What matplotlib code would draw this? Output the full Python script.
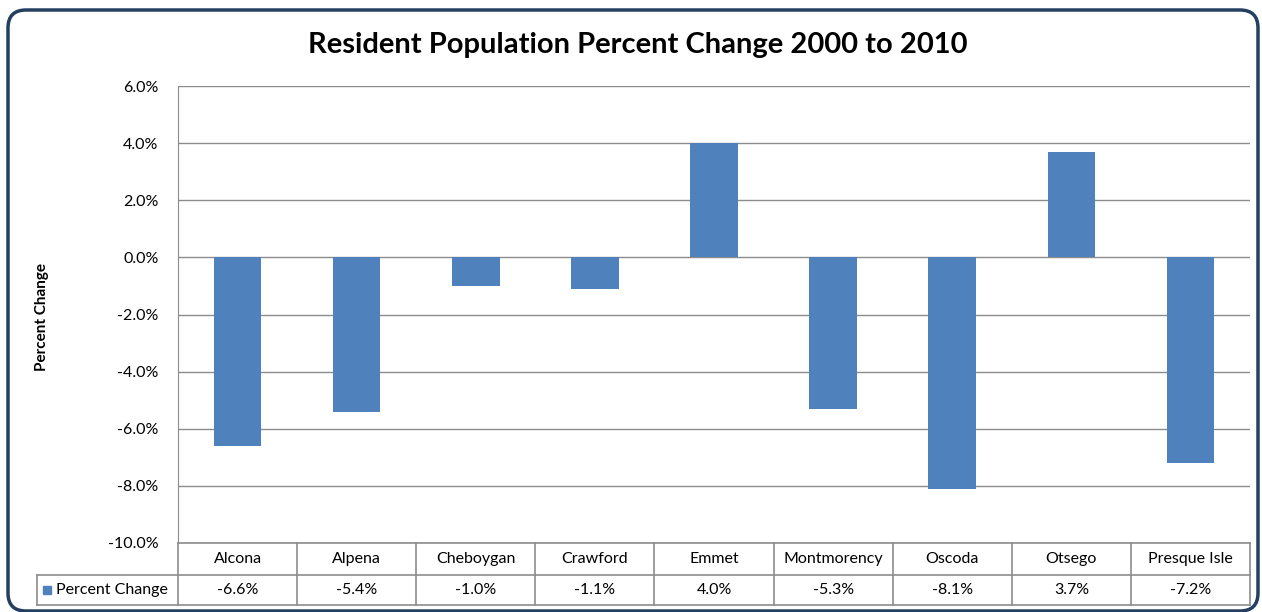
import matplotlib
matplotlib.use("Agg")
import matplotlib.pyplot as plt
from matplotlib.patches import FancyBboxPatch, Rectangle
from matplotlib.transforms import blended_transform_factory, IdentityTransform
import numpy as np

plt.rcParams['font.family'] = ['Lato', 'DejaVu Sans']

counties = ['Alcona', 'Alpena', 'Cheboygan', 'Crawford', 'Emmet',
            'Montmorency', 'Oscoda', 'Otsego', 'Presque Isle']
pct_change = [-6.6, -5.4, -1.0, -1.1, 4.0, -5.3, -8.1, 3.7, -7.2]
series_name = 'Percent Change'
yticks = [6, 4, 2, 0, -2, -4, -6, -8, -10]

W, H = 1262, 612
fig = plt.figure(figsize=(W / 100, H / 100), dpi=100)

# rounded chart frame (pixel coords)
frame = FancyBboxPatch((8, 1), 1250, H - 11,
                       boxstyle="round,pad=0,rounding_size=18",
                       transform=IdentityTransform(), fill=False,
                       edgecolor='#243f60', linewidth=2.5)
fig.patches.append(frame)

ax = fig.add_axes([178 / W, 1 - 543 / H, (1250 - 178) / W, (543 - 86) / H])
x = np.arange(len(counties))
ax.bar(x, pct_change, width=0.4, color='#4f81bd', zorder=3)

ax.set_xlim(-0.5, len(counties) - 0.5)
ax.set_ylim(-10, 6)
ax.set_yticks(yticks)
ax.set_yticklabels([f'{t:.1f}%' for t in yticks], fontsize=11.5)
ax.yaxis.grid(True, color='#8c8c8c', linewidth=1.0, zorder=0)
ax.tick_params(axis='y', length=0, pad=14)
ax.set_xticks([])
for s in ['top', 'right', 'bottom']:
    ax.spines[s].set_visible(False)
ax.spines['left'].set_color('#8c8c8c')

fig.text(638 / W, 1 - 45 / H, 'Resident Population Percent Change 2000 to 2010',
         ha='center', va='center', fontsize=21, fontweight='bold')
fig.text(42 / W, 1 - 317 / H, 'Percent Change', rotation=90, ha='center',
         va='center', fontsize=11, fontweight='bold')

# data table under the plot
tr = blended_transform_factory(ax.transData, fig.transFigure)
def fy(py):
    return 1 - py / H

lc = '#8c8c8c'
y_top, y_mid, y_bot = 543, 575, 605
fig.add_artist(plt.Line2D([178 / W, 1250 / W], [fy(y_top)] * 2, color=lc, lw=1.2))
fig.add_artist(plt.Line2D([37 / W, 1250 / W], [fy(y_mid)] * 2, color=lc, lw=1.2))
fig.add_artist(plt.Line2D([37 / W, 1250 / W], [fy(y_bot)] * 2, color=lc, lw=1.2))
fig.add_artist(plt.Line2D([37 / W, 37 / W], [fy(y_mid), fy(y_bot)], color=lc, lw=1.2))
for b in np.arange(len(counties) + 1) - 0.5:
    fig.add_artist(plt.Line2D([b, b], [fy(y_top), fy(y_bot)], color=lc, lw=1.2,
                              transform=tr))
for i, (name, v) in enumerate(zip(counties, pct_change)):
    fig.text(i, fy((y_top + y_mid) / 2), name, transform=tr, ha='center',
             va='center', fontsize=11.5)
    fig.text(i, fy((y_mid + y_bot) / 2), f'{v:.1f}%', transform=tr,
             ha='center', va='center', fontsize=11.5)

fig.add_artist(Rectangle((43 / W, fy(594)), 8 / W, 8 / H, color='#4f81bd',
                         transform=fig.transFigure))
fig.text(56 / W, fy((y_mid + y_bot) / 2), series_name, ha='left', va='center',
         fontsize=11.5)

fig.savefig('out.png', dpi=100)
